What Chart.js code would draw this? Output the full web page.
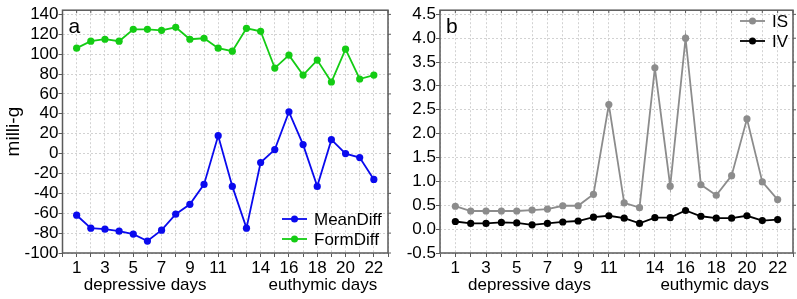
<!DOCTYPE html>
<html><head><meta charset="utf-8">
<script src="https://cdn.jsdelivr.net/npm/chart.js@4"></script>
<style>
html,body{margin:0;padding:0;background:#fff;}
#wrap{position:relative;width:797px;height:299px;overflow:hidden;}
canvas{position:absolute;top:0;}
</style></head>
<body><div id="wrap"><canvas id="ca" width="400" height="299" style="left:0"></canvas><canvas id="cb" width="397" height="299" style="left:400px"></canvas></div>
<script>
// ---- data ----
const days = [1,2,3,4,5,6,7,8,9,10,11,12,13,14,15,16,17,18,19,20,21,22];
const tickDays = [1,3,5,7,9,11,14,16,18,20,22];
const meanDiff = [-62,-75,-76,-78,-81,-88,-77,-61,-51,-31,18,-33,-75,-9,4,42,9,-33,14,0,-4,-26];
const formDiff = [106,113,115,113,125,125,124,127,115,116,106,103,126,123,86,99,79,94,72,105,75,79];
const isVals = [0.48,0.38,0.38,0.38,0.38,0.40,0.42,0.49,0.49,0.73,2.61,0.55,0.45,3.38,0.90,4.00,0.93,0.71,1.12,2.31,0.99,0.62];
const ivVals = [0.16,0.12,0.12,0.14,0.13,0.09,0.12,0.15,0.17,0.25,0.28,0.23,0.12,0.24,0.24,0.39,0.27,0.23,0.23,0.28,0.18,0.20];
const periodLabels = ['depressive days','euthymic days'];
const seriesNamesA = ['MeanDiff','FormDiff'];
const seriesNamesB = ['IS','IV'];
const panelLetters = ['a','b'];
const yTitleA = 'milli-g';

Chart.defaults.font.family = '"Liberation Sans", Arial, sans-serif';
Chart.defaults.color = '#000';

const pts = vals => days.map((d,i)=>({x:d,y:vals[i]}));
const FRAME = '#5a5a5a';
const GRID = '#d2d2d2';

const decor = {
  id:'decor',
  afterDraw(chart, args, o){
    const ctx = chart.ctx, a = chart.chartArea, xs = chart.scales.x, ys = chart.scales.y;
    ctx.save();
    ctx.strokeStyle = FRAME; ctx.lineWidth = 1.5;
    ctx.strokeRect(a.left, a.top, a.right-a.left, a.bottom-a.top);
    ctx.lineWidth = 1;
    ctx.beginPath();
    xs.ticks.forEach(t=>{const x=xs.getPixelForValue(t.value); ctx.moveTo(x,a.top); ctx.lineTo(x,a.top+3);});
    ys.ticks.forEach(t=>{const y=ys.getPixelForValue(t.value); ctx.moveTo(a.right,y); ctx.lineTo(a.right+3,y);});
    ctx.stroke();
    ctx.fillStyle = '#000';
    ctx.font = '21px "Liberation Sans", Arial, sans-serif';
    ctx.textBaseline = 'alphabetic'; ctx.textAlign = 'left';
    ctx.fillText(o.letter, a.left+6, a.top+23);
    ctx.font = '17px "Liberation Sans", Arial, sans-serif';
    ctx.textAlign = 'center';
    o.periodX.forEach((v,i)=>ctx.fillText(periodLabels[i], xs.getPixelForValue(v), 290));
    ctx.textAlign = 'left'; ctx.textBaseline = 'middle';
    chart.data.datasets.forEach((ds,i)=>{
      const y = o.legY + i*o.legGap, x0 = o.legX;
      ctx.strokeStyle = ds.borderColor; ctx.lineWidth = 1.8;
      ctx.beginPath(); ctx.moveTo(x0,y); ctx.lineTo(x0+25,y); ctx.stroke();
      ctx.fillStyle = ds.borderColor;
      ctx.beginPath(); ctx.arc(x0+12.5,y,3.5,0,Math.PI*2); ctx.fill();
      ctx.fillStyle = '#000';
      ctx.fillText(ds.label, x0+32, y+1);
    });
    ctx.restore();
  }
};

function xScale(h){
  return {
    type:'linear', min:0, max:23,
    afterFit(s){ s.height = h; },
    ticks:{ stepSize:1, autoSkip:false, maxRotation:0, padding:1, font:{size:17},
      callback:v=> tickDays.includes(v) ? String(v) : '' },
    grid:{ color:GRID, lineWidth:1, drawTicks:true, tickLength:4, tickColor:FRAME },
    border:{ display:false, dash:[2,2] }
  };
}

function makeChart(id, datasets, yOpts, layoutPad, yWidth, decorOpts){
  return new Chart(document.getElementById(id), {
    type:'line',
    data:{ datasets },
    options:{
      responsive:false, animation:false, devicePixelRatio:1,
      layout:{ padding: layoutPad },
      plugins:{ legend:{display:false}, tooltip:{enabled:false}, decor: decorOpts },
      elements:{ line:{ borderWidth:1.8, tension:0 }, point:{ radius:3.6, borderWidth:0 } },
      scales:{
        x: xScale(46),
        y: Object.assign({
          afterFit(s){ s.width = yWidth; },
          grid:{ color:GRID, lineWidth:1, drawTicks:true, tickLength:4, tickColor:FRAME },
          border:{ display:false, dash:[2,2] }
        }, yOpts)
      }
    },
    plugins:[decor]
  });
}

makeChart('ca', [
  { label:seriesNamesA[0], data:pts(meanDiff), borderColor:'#0a0aee', backgroundColor:'#0a0aee', pointBackgroundColor:'#0a0aee' },
  { label:seriesNamesA[1], data:pts(formDiff), borderColor:'#14cc14', backgroundColor:'#14cc14', pointBackgroundColor:'#14cc14' }
], {
  min:-100, max:144.2,
  ticks:{ stepSize:20, includeBounds:false, autoSkip:false, padding:0, font:{size:17} },
  title:{ display:true, text:yTitleA, font:{size:19}, padding:{top:0,bottom:2} }
}, {top:3, right:12, left:2, bottom:0}, 60.5,
{ letter:panelLetters[0], periodX:[5.84,18.4], legX:282, legY:219, legGap:20 });

makeChart('cb', [
  { label:seriesNamesB[0], data:pts(isVals), borderColor:'#8c8c8c', backgroundColor:'#8c8c8c', pointBackgroundColor:'#8c8c8c' },
  { label:seriesNamesB[1], data:pts(ivVals), borderColor:'#000000', backgroundColor:'#000000', pointBackgroundColor:'#000000' }
], {
  min:-0.5, max:4.587,
  ticks:{ stepSize:0.5, includeBounds:false, autoSkip:false, padding:0, font:{size:17}, callback:v=>v.toFixed(1) }
}, {top:3, right:2, left:0, bottom:0}, 40,
{ letter:panelLetters[1], periodX:[5.83,17.9], legX:340, legY:21, legGap:20 });
</script>
</body></html>
